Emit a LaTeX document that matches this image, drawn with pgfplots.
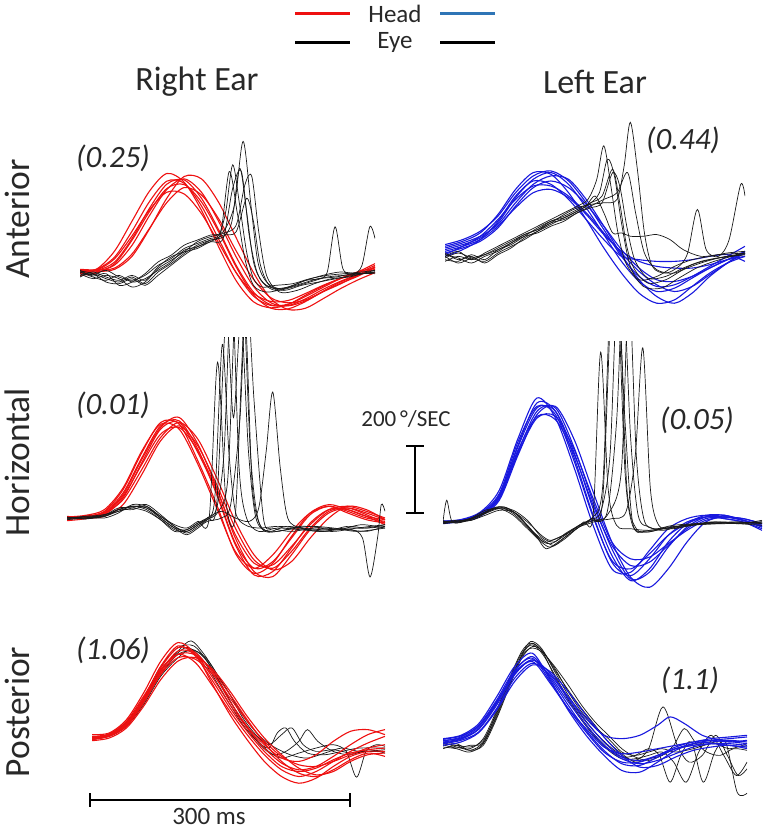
\documentclass[border=0pt]{standalone}
\usepackage{pgfplots}
\pgfplotsset{compat=1.18}
\usepackage{fontspec}
\setmainfont{Carlito}
\definecolor{hred}{RGB}{238,16,16}
\definecolor{hblue}{RGB}{24,24,222}
\definecolor{lblue}{RGB}{46,117,182}
\definecolor{eyek}{RGB}{25,25,25}
\definecolor{txt}{RGB}{40,40,40}
\pgfplotsset{
  panel/.style={scale only axis, hide axis, xmin=0, xmax=340, ymin=-250, ymax=600, height=284.75bp, anchor=origin},
  hpanel/.style={panel, ymax=540, height=264.65bp},
}
\tikzset{
  hr/.style={hred, line width=1.1bp, smooth},
  hb/.style={hblue, line width=1.1bp, smooth},
  ek/.style={eyek, line width=0.7bp, smooth},
}
\begin{document}
\begin{tikzpicture}
\path[use as bounding box] (0,0) rectangle (768bp,829bp);

% ---------------- Right ear, anterior ----------------
\begin{axis}[panel, at={(80bp,557bp)}, width=295bp]
\addplot[hr] coordinates {(0,0)(20,5)(40,30)(60,100)(80,190)(100,262)(120,275)(140,220)(160,125)(180,20)(200,-60)(220,-98)(240,-100)(260,-80)(280,-52)(300,-28)(320,-8)(340,8)};
\addplot[hr] coordinates {(0,-5)(20,10)(40,63)(60,152)(80,241)(100,294)(120,268)(140,184)(160,74)(180,-26)(200,-89)(220,-107)(240,-97)(260,-69)(280,-42)(300,-19)(320,0)(340,12)};
\addplot[hr] coordinates {(0,8)(20,6)(40,12)(60,54)(80,130)(100,207)(120,252)(140,230)(160,158)(180,63)(200,-22)(220,-77)(240,-92)(260,-83)(280,-59)(300,-36)(320,-10)(340,15)};
\addplot[hr] coordinates {(0,-10)(20,-2)(40,25)(60,95)(80,180)(100,249)(120,261)(140,209)(160,119)(180,15)(200,-68)(220,-108)(240,-110)(260,-88)(280,-58)(300,-30)(320,-10)(340,15)};
\addplot[hr] coordinates {(0,2)(20,4)(40,21)(60,80)(80,168)(100,246)(120,278)(140,238)(160,150)(180,45)(200,-43)(220,-92)(240,-101)(260,-86)(280,-59)(300,-34)(320,-13)(340,14)};
\addplot[hr] coordinates {(0,5)(20,7)(40,40)(60,108)(80,185)(100,238)(120,233)(140,174)(160,86)(180,-2)(200,-64)(220,-88)(240,-85)(260,-64)(280,-40)(300,-20)(320,-4)(340,20)};
\addplot[hr] coordinates {(0,-3)(20,1)(40,8)(60,47)(80,128)(100,220)(120,285)(140,278)(160,207)(180,102)(200,-2)(220,-80)(240,-112)(260,-108)(280,-80)(300,-50)(320,-24)(340,-2)};
\addplot[hr] coordinates {(0,0)(20,9)(40,45)(60,122)(80,210)(100,271)(120,265)(140,197)(160,97)(180,-2)(200,-72)(220,-100)(240,-96)(260,-73)(280,-46)(300,-20)(320,0)(340,25)};
\addplot[ek] coordinates {(0,0)(15,-8)(30,5)(45,-15)(60,-25)(75,-10)(90,20)(105,40)(120,70)(135,85)(150,100)(160,110)(168,180)(176,320)(184,200)(192,60)(200,-20)(210,-45)(225,-40)(245,-35)(265,-20)(285,-10)(305,-5)(325,0)(340,5)};
\addplot[ek] coordinates {(0,-10)(15,-5)(30,-20)(45,-30)(60,-15)(75,-35)(90,0)(105,25)(120,55)(135,80)(150,95)(165,105)(175,150)(184,310)(192,180)(200,30)(210,-30)(225,-55)(245,-45)(265,-30)(285,-15)(305,-10)(325,-5)(340,0)};
\addplot[ek] coordinates {(0,5)(15,-12)(30,-5)(45,-40)(60,-30)(75,-5)(90,30)(105,50)(120,80)(135,95)(150,110)(165,120)(178,200)(188,390)(197,200)(205,30)(215,-30)(230,-50)(245,-40)(260,-25)(275,-20)(285,0)(294,135)(303,10)(315,-5)(325,20)(334,135)(340,100)};
\addplot[ek] coordinates {(0,-5)(15,-20)(30,-10)(45,-20)(60,-45)(75,-30)(90,10)(105,35)(120,60)(135,90)(150,105)(165,115)(180,140)(190,260)(198,285)(206,120)(215,-10)(230,-60)(250,-55)(270,-35)(290,-20)(310,-15)(325,-5)(340,5)};
\addplot[ek] coordinates {(0,0)(15,-15)(30,-25)(45,-10)(60,-30)(75,-20)(90,5)(105,30)(120,65)(135,75)(150,95)(162,115)(172,300)(181,180)(190,40)(200,-40)(215,-60)(235,-50)(255,-35)(275,-20)(295,-15)(315,-5)(340,-5)};
\addplot[ek] coordinates {(0,-15)(15,0)(30,-15)(45,-25)(60,-10)(75,-25)(90,15)(105,45)(120,60)(135,70)(150,90)(165,100)(176,250)(186,300)(195,110)(204,0)(215,-40)(235,-55)(255,-40)(275,-30)(295,-20)(315,-10)(340,0)};
\addplot[ek] coordinates {(0,3)(15,-5)(30,-30)(45,-35)(60,-20)(75,-40)(90,-10)(105,20)(120,50)(135,75)(150,90)(165,110)(180,120)(192,220)(200,150)(208,20)(220,-45)(240,-45)(260,-25)(280,-10)(300,0)(320,-5)(340,0)};
\end{axis}

% ---------------- Left ear, anterior ----------------
\begin{axis}[panel, at={(445bp,576bp)}, width=300bp]
\addplot[hb] coordinates {(0,10)(20,25)(40,45)(60,90)(80,165)(100,220)(120,240)(140,205)(160,135)(180,55)(200,-25)(220,-85)(240,-115)(260,-105)(280,-75)(300,-45)(320,-20)(340,0)};
\addplot[hb] coordinates {(0,20)(20,35)(40,60)(60,115)(80,190)(100,240)(120,235)(140,180)(160,100)(180,15)(200,-60)(220,-120)(240,-150)(260,-140)(280,-100)(300,-60)(320,-30)(340,-10)};
\addplot[hb] coordinates {(0,0)(20,15)(40,35)(60,75)(80,140)(100,195)(120,215)(140,195)(160,145)(180,80)(200,10)(220,-45)(240,-80)(260,-85)(280,-70)(300,-45)(320,-20)(340,5)};
\addplot[hb] coordinates {(0,-10)(20,10)(40,40)(60,95)(80,170)(100,215)(120,205)(140,160)(160,100)(180,40)(200,-10)(220,-20)(240,-25)(260,-25)(280,-20)(300,-10)(320,-5)(340,-25)};
\addplot[hb] coordinates {(0,15)(20,30)(40,50)(60,85)(80,150)(100,205)(120,230)(140,220)(160,160)(180,80)(200,-5)(220,-80)(240,-130)(260,-150)(280,-120)(300,-70)(320,-30)(340,5)};
\addplot[hb] coordinates {(0,5)(20,20)(40,40)(60,80)(80,135)(100,180)(120,190)(140,165)(160,115)(180,55)(200,5)(220,-25)(240,-40)(260,-45)(280,-45)(300,-35)(320,-20)(340,-10)};
\addplot[hb] coordinates {(0,25)(20,40)(40,65)(60,110)(80,180)(100,230)(120,245)(140,215)(160,150)(180,70)(200,-10)(220,-70)(240,-100)(260,-95)(280,-70)(300,-40)(320,-10)(340,20)};
\addplot[hb] coordinates {(0,-5)(20,20)(40,50)(60,100)(80,160)(100,200)(120,200)(140,170)(160,120)(180,60)(200,0)(220,-55)(240,-95)(260,-115)(280,-100)(300,-65)(320,-30)(340,0)};
\addplot[ek] coordinates {(0,-10)(15,5)(30,-20)(45,0)(60,20)(75,40)(90,60)(105,80)(120,100)(135,120)(150,140)(162,160)(172,220)(180,320)(188,200)(196,60)(205,-30)(220,-80)(240,-70)(260,-40)(280,-20)(300,-10)(320,0)(340,5)};
\addplot[ek] coordinates {(0,-20)(15,-25)(30,-5)(45,-20)(60,10)(75,25)(90,50)(105,75)(120,95)(135,110)(150,130)(165,150)(178,170)(190,250)(198,150)(206,20)(215,-50)(230,-90)(250,-80)(270,-50)(290,-30)(310,-15)(340,0)};
\addplot[ek] coordinates {(0,-5)(15,-15)(30,-30)(45,-10)(60,5)(75,30)(90,55)(105,70)(120,90)(135,115)(150,135)(165,145)(180,150)(195,160)(203,260)(210,390)(218,250)(226,60)(235,-40)(250,-60)(265,-40)(275,0)(286,130)(296,10)(310,-10)(322,40)(335,204)(340,170)};
\addplot[ek] coordinates {(0,-15)(15,0)(30,-15)(45,-25)(60,0)(75,20)(90,40)(105,65)(120,90)(135,100)(150,120)(165,140)(180,160)(195,180)(207,240)(216,120)(226,0)(240,-50)(260,-60)(280,-35)(300,-20)(320,-10)(340,-5)};
\addplot[ek] coordinates {(0,-25)(15,-10)(30,-20)(45,-5)(60,15)(75,35)(90,55)(105,70)(120,95)(135,105)(150,125)(160,140)(170,170)(180,120)(190,60)(200,60)(210,50)(225,50)(240,55)(255,40)(270,10)(290,-10)(310,-5)(340,0)};
\addplot[ek] coordinates {(0,0)(15,-20)(30,-10)(45,-30)(60,-5)(75,15)(90,45)(105,65)(120,85)(135,105)(150,125)(163,145)(175,180)(184,280)(192,230)(200,90)(210,-40)(225,-100)(245,-105)(265,-75)(285,-45)(305,-25)(325,-10)(340,0)};
\addplot[ek] coordinates {(0,-10)(15,-30)(30,-15)(45,-5)(60,10)(75,30)(90,50)(105,60)(120,80)(135,95)(150,120)(165,135)(178,150)(190,240)(198,200)(206,80)(215,-20)(230,-75)(250,-70)(270,-45)(290,-25)(310,-15)(340,-5)};
\end{axis}

% ---------------- Right ear, horizontal ----------------
\begin{axis}[hpanel, at={(67bp,311bp)}, width=318bp]
\addplot[hr] coordinates {(0,0)(20,2)(40,10)(60,60)(80,165)(100,265)(120,285)(140,195)(160,75)(180,-75)(200,-150)(220,-130)(240,-60)(260,10)(280,35)(300,20)(320,0)(340,-10)};
\addplot[hr] coordinates {(0,-5)(20,5)(40,20)(60,85)(80,195)(100,285)(120,280)(140,170)(160,40)(180,-105)(200,-165)(220,-135)(240,-55)(260,15)(280,40)(300,25)(320,5)(340,-5)};
\addplot[hr] coordinates {(0,5)(20,0)(40,5)(60,40)(80,130)(100,230)(120,275)(140,215)(160,100)(180,-30)(200,-125)(220,-150)(240,-100)(260,-30)(280,20)(300,30)(320,10)(340,-15)};
\addplot[hr] coordinates {(0,0)(20,5)(40,15)(60,70)(80,175)(100,270)(120,300)(140,220)(160,90)(180,-60)(200,-160)(220,-175)(240,-110)(260,-35)(280,15)(300,30)(320,15)(340,-5)};
\addplot[hr] coordinates {(0,-8)(20,-2)(40,12)(60,65)(80,160)(100,250)(120,270)(140,200)(160,85)(180,-50)(200,-135)(220,-140)(240,-85)(260,-20)(280,25)(300,35)(320,20)(340,0)};
\addplot[hr] coordinates {(0,3)(20,8)(40,25)(60,90)(80,200)(100,280)(120,265)(140,160)(160,30)(180,-100)(200,-150)(220,-110)(240,-40)(260,15)(280,35)(300,15)(320,-5)(340,-15)};
\addplot[hr] coordinates {(0,-3)(20,3)(40,15)(60,55)(80,145)(100,240)(120,285)(140,235)(160,120)(180,-10)(200,-110)(220,-155)(240,-130)(260,-60)(280,0)(300,35)(320,25)(340,-5)};
\addplot[hr] coordinates {(0,0)(20,4)(40,18)(60,75)(80,180)(100,275)(120,290)(140,205)(160,70)(180,-80)(200,-170)(220,-160)(240,-90)(260,-15)(280,25)(300,25)(320,5)(340,-20)};
\addplot[ek] coordinates {(0,0)(20,5)(40,10)(55,25)(70,35)(85,30)(100,0)(115,-30)(128,-35)(140,-15)(150,0)(158,60)(166,518)(173,200)(180,20)(190,-20)(205,-30)(225,-25)(250,-30)(275,-35)(300,-30)(320,-30)(340,-20)};
\addplot[ek] coordinates {(0,-5)(20,0)(40,5)(55,20)(70,30)(85,40)(100,10)(115,-25)(128,-45)(140,-25)(150,-5)(160,30)(168,200)(176,700)(184,150)(192,0)(205,-40)(225,-30)(250,-35)(275,-40)(300,-25)(320,-30)(340,-25)};
\addplot[ek] coordinates {(0,3)(20,-3)(40,8)(55,30)(70,30)(85,20)(100,-5)(115,-35)(128,-40)(140,-20)(150,-5)(162,20)(172,120)(180,650)(188,700)(196,200)(204,0)(215,-40)(235,-35)(260,-25)(285,-30)(310,-40)(340,-30)};
\addplot[ek] coordinates {(0,0)(20,2)(40,0)(55,15)(70,40)(85,35)(100,5)(115,-20)(128,-30)(140,-10)(152,0)(161,465)(170,50)(180,10)(190,600)(198,100)(208,-30)(225,-40)(250,-25)(275,-30)(300,-35)(320,-40)(340,-25)};
\addplot[ek] coordinates {(0,-3)(20,5)(40,5)(55,25)(70,25)(85,35)(100,0)(115,-30)(128,-50)(140,-30)(150,-10)(165,0)(175,40)(185,300)(192,700)(200,350)(210,0)(220,-30)(240,-40)(265,-30)(290,-35)(315,-20)(340,-30)};
\addplot[ek] coordinates {(0,0)(20,0)(40,10)(55,20)(70,35)(85,25)(100,-5)(115,-40)(128,-35)(140,-15)(150,0)(165,20)(180,0)(195,-10)(205,30)(213,200)(220,376)(228,150)(236,0)(250,-30)(270,-40)(290,-35)(305,-35)(316,-60)(324,-176)(332,-60)(336,40)(340,20)};
\addplot[ek] coordinates {(0,2)(20,-2)(40,5)(55,25)(70,35)(85,30)(100,5)(115,-25)(128,-40)(140,-20)(150,0)(160,40)(170,600)(178,300)(186,600)(194,200)(202,0)(215,-40)(235,-25)(260,-35)(285,-40)(310,-30)(340,-20)};
\end{axis}

% ---------------- Left ear, horizontal ----------------
\begin{axis}[hpanel, at={(443bp,307bp)}, width=319bp]
\addplot[hb] coordinates {(0,0)(20,5)(40,25)(60,80)(80,230)(100,355)(120,330)(140,190)(160,20)(180,-120)(200,-160)(220,-110)(240,-40)(260,0)(280,15)(300,15)(320,5)(340,-10)};
\addplot[hb] coordinates {(0,-3)(20,3)(40,20)(60,70)(80,210)(100,330)(120,340)(140,220)(160,60)(180,-80)(200,-170)(220,-150)(240,-75)(260,-15)(280,15)(300,20)(320,5)(340,-15)};
\addplot[hb] coordinates {(0,2)(20,8)(40,30)(60,95)(80,250)(100,370)(120,310)(140,160)(160,-10)(180,-140)(200,-150)(220,-85)(240,-20)(260,10)(280,20)(300,10)(320,0)(340,-20)};
\addplot[hb] coordinates {(0,0)(20,4)(40,22)(60,75)(80,215)(100,315)(120,305)(140,200)(160,50)(180,-70)(200,-130)(220,-120)(240,-70)(260,-20)(280,10)(300,15)(320,10)(340,-5)};
\addplot[hb] coordinates {(0,-5)(20,2)(40,18)(60,65)(80,200)(100,320)(120,345)(140,245)(160,90)(180,-60)(200,-165)(220,-195)(240,-140)(260,-60)(280,0)(300,15)(320,5)(340,-15)};
\addplot[hb] coordinates {(0,3)(20,6)(40,28)(60,85)(80,240)(100,345)(120,320)(140,180)(160,15)(180,-115)(200,-140)(220,-95)(240,-40)(260,-5)(280,15)(300,10)(320,0)(340,-25)};
\addplot[hb] coordinates {(0,0)(20,5)(40,24)(60,78)(80,225)(100,340)(120,330)(140,205)(160,40)(180,-100)(200,-175)(220,-140)(240,-60)(260,-5)(280,20)(300,20)(320,5)(340,-10)};
\addplot[hb] coordinates {(0,-2)(20,3)(40,20)(60,72)(80,205)(100,310)(120,315)(140,215)(160,70)(180,-60)(200,-110)(220,-105)(240,-65)(260,-25)(280,5)(300,15)(320,10)(340,-5)};
\addplot[ek] coordinates {(0,0)(4,65)(10,0)(25,5)(40,20)(55,40)(65,45)(80,20)(95,-30)(108,-60)(120,-50)(135,-30)(150,0)(160,20)(168,507)(176,100)(185,-10)(200,-20)(220,-25)(245,-15)(270,-5)(300,0)(320,-5)(340,0)};
\addplot[ek] coordinates {(0,-5)(15,0)(30,10)(45,30)(58,45)(70,40)(85,5)(100,-45)(110,-80)(125,-55)(140,-25)(155,5)(168,30)(178,200)(186,700)(194,300)(202,0)(215,-30)(235,-20)(260,-10)(290,-5)(315,0)(340,-5)};
\addplot[ek] coordinates {(0,0)(15,5)(30,5)(45,25)(60,40)(75,30)(90,-10)(105,-55)(115,-65)(130,-40)(145,-10)(158,10)(170,60)(180,700)(188,650)(196,100)(206,-20)(220,-25)(240,-15)(265,-10)(290,0)(315,-5)(340,-10)};
\addplot[ek] coordinates {(0,3)(15,-3)(30,8)(45,30)(60,45)(75,25)(90,-15)(105,-50)(118,-70)(130,-45)(145,-15)(160,5)(175,20)(190,150)(198,700)(206,200)(214,10)(225,-20)(245,-10)(270,-5)(300,-5)(340,0)};
\addplot[ek] coordinates {(0,-2)(15,2)(30,12)(45,35)(60,40)(75,20)(90,-20)(105,-60)(115,-75)(130,-50)(145,-15)(160,0)(175,30)(185,300)(192,700)(200,250)(208,20)(220,-15)(235,-25)(255,-10)(280,-5)(310,0)(340,-5)};
\addplot[ek] coordinates {(0,0)(15,0)(30,5)(45,20)(60,35)(75,30)(90,0)(105,-40)(115,-55)(128,-40)(140,-20)(152,0)(165,5)(180,10)(195,30)(205,200)(213,520)(221,100)(230,-10)(245,-20)(265,-10)(290,-5)(340,0)};
\addplot[ek] coordinates {(0,2)(15,3)(30,10)(45,28)(60,42)(75,35)(90,5)(105,-45)(118,-60)(130,-35)(145,-10)(158,10)(170,100)(178,650)(186,700)(194,150)(202,-10)(215,-30)(235,-20)(255,-15)(285,0)(315,-5)(340,5)};
\end{axis}

% ---------------- Right ear, posterior ----------------
\begin{axis}[panel, at={(92bp,91bp)}, width=293bp]
\addplot[ek] coordinates {(0,0)(20,8)(40,40)(60,110)(80,200)(100,260)(115,290)(130,250)(145,190)(160,130)(175,60)(190,10)(205,-20)(220,10)(232,30)(245,-20)(260,-40)(280,-35)(300,-45)(320,-40)(340,-35)};
\addplot[ek] coordinates {(0,-5)(20,10)(40,45)(60,120)(80,215)(100,270)(118,275)(135,225)(150,160)(165,90)(180,30)(195,-20)(210,-50)(225,-40)(240,-10)(250,25)(262,-10)(280,-40)(300,-50)(320,-35)(340,-45)};
\addplot[ek] coordinates {(0,5)(20,5)(40,35)(60,100)(80,185)(100,240)(115,265)(130,240)(145,180)(160,110)(175,50)(190,0)(205,-40)(220,-60)(240,-45)(260,-30)(280,-20)(295,-40)(307,-117)(318,-40)(330,-20)(340,-25)};
\addplot[ek] coordinates {(0,2)(20,12)(40,48)(60,115)(80,205)(100,255)(112,270)(128,235)(145,165)(160,100)(175,40)(190,-5)(205,-30)(215,15)(225,30)(235,-10)(250,-45)(270,-50)(290,-40)(310,-30)(340,-30)};
\addplot[ek] coordinates {(0,-3)(20,6)(40,38)(60,105)(80,190)(100,250)(120,260)(135,230)(150,170)(165,110)(180,50)(195,5)(210,-25)(230,-50)(250,-60)(270,-45)(290,-30)(310,-40)(340,-40)};
\addplot[hr] coordinates {(0,0)(20,10)(40,45)(60,120)(80,215)(100,275)(120,245)(140,170)(160,90)(180,20)(200,-40)(220,-85)(240,-100)(260,-90)(280,-65)(300,-45)(320,-35)(340,-30)};
\addplot[hr] coordinates {(0,10)(20,15)(40,55)(60,135)(80,230)(100,285)(120,250)(140,160)(160,70)(180,-5)(200,-70)(220,-115)(240,-135)(260,-120)(280,-85)(300,-55)(320,-40)(340,-40)};
\addplot[hr] coordinates {(0,-5)(20,5)(40,35)(60,105)(80,190)(100,240)(120,235)(140,190)(160,120)(180,50)(200,-10)(220,-55)(240,-80)(260,-85)(280,-70)(300,-50)(320,-30)(340,-20)};
\addplot[hr] coordinates {(0,5)(20,12)(40,50)(60,125)(80,205)(100,250)(120,225)(140,155)(160,80)(180,10)(200,-50)(220,-95)(240,-115)(260,-100)(280,-70)(300,-40)(320,-15)(340,5)};
\addplot[hr] coordinates {(0,-8)(20,0)(40,30)(60,95)(80,175)(100,230)(120,240)(140,205)(160,140)(180,65)(200,0)(220,-50)(240,-90)(260,-110)(280,-100)(300,-70)(320,-50)(340,-45)};
\addplot[hr] coordinates {(0,3)(20,10)(40,40)(60,115)(80,200)(100,260)(120,250)(140,180)(160,100)(180,30)(200,-30)(220,-75)(240,-95)(260,-85)(280,-55)(300,-20)(320,10)(340,25)};
\addplot[hr] coordinates {(0,0)(20,8)(40,42)(60,118)(80,210)(100,270)(120,255)(140,195)(160,110)(180,35)(200,-20)(220,-60)(240,-70)(260,-50)(280,-10)(300,20)(320,25)(340,10)};
\addplot[hr] coordinates {(0,-3)(20,6)(40,38)(60,110)(80,195)(100,250)(120,248)(140,200)(160,130)(180,55)(200,-15)(220,-70)(240,-105)(260,-115)(280,-95)(300,-65)(320,-45)(340,-55)};
\end{axis}

% ---------------- Left ear, posterior ----------------
\begin{axis}[panel, at={(443bp,87bp)}, width=304bp]
\addplot[ek] coordinates {(0,-15)(15,-20)(30,-30)(45,-5)(60,80)(75,180)(88,260)(98,300)(110,280)(125,210)(140,140)(155,80)(170,30)(185,-10)(200,-40)(215,-55)(230,-20)(246,105)(262,-10)(275,-60)(290,-40)(305,20)(318,-40)(330,-100)(340,-80)};
\addplot[ek] coordinates {(0,-5)(15,-10)(30,-25)(45,0)(60,90)(75,190)(88,265)(100,290)(112,260)(125,200)(140,130)(155,70)(170,20)(185,-20)(200,-45)(215,-40)(230,-20)(242,-40)(254,-120)(266,-40)(278,0)(291,-120)(304,-30)(316,0)(329,-150)(340,-153)};
\addplot[ek] coordinates {(0,0)(15,-15)(30,-20)(45,10)(60,95)(75,195)(88,270)(98,295)(110,275)(125,220)(140,150)(155,90)(170,45)(185,10)(200,-30)(215,-40)(230,-30)(245,-20)(260,-30)(280,-20)(300,-5)(320,-10)(340,-15)};
\addplot[ek] coordinates {(0,-10)(15,-5)(30,-25)(45,-10)(60,70)(75,170)(88,250)(100,285)(112,270)(125,215)(140,155)(155,100)(170,50)(185,0)(200,-35)(215,-60)(230,-50)(245,-40)(258,-10)(270,40)(282,0)(295,-30)(310,-40)(325,-20)(340,-25)};
\addplot[ek] coordinates {(0,-20)(15,-10)(30,-15)(45,5)(60,85)(75,185)(88,255)(98,280)(110,270)(125,225)(140,170)(155,110)(170,60)(185,20)(200,-20)(215,-45)(230,-55)(245,-40)(260,-20)(280,-10)(300,0)(320,-20)(340,-5)};
\addplot[ek] coordinates {(0,-8)(15,-18)(30,-10)(45,-3)(60,75)(75,175)(88,258)(100,295)(112,265)(125,195)(140,125)(155,65)(170,15)(185,-25)(200,-50)(215,-50)(230,-40)(245,-30)(258,-60)(272,-120)(286,-30)(300,20)(314,-40)(328,-100)(340,-60)};
\addplot[hb] coordinates {(0,0)(20,10)(40,40)(60,115)(80,210)(100,255)(120,190)(140,110)(160,35)(180,-25)(200,-65)(220,-70)(240,-45)(260,-20)(280,-5)(300,0)(320,5)(340,0)};
\addplot[hb] coordinates {(0,10)(20,20)(40,55)(60,135)(80,225)(100,265)(120,185)(140,95)(160,20)(180,-40)(200,-85)(220,-90)(240,-60)(260,-25)(280,-5)(300,5)(320,10)(340,15)};
\addplot[hb] coordinates {(0,-5)(20,5)(40,30)(60,100)(80,190)(100,235)(120,200)(140,130)(160,60)(180,0)(200,-45)(220,-55)(240,-40)(260,-20)(280,-10)(300,-5)(320,-10)(340,-15)};
\addplot[hb] coordinates {(0,5)(20,12)(40,45)(60,120)(80,205)(100,245)(120,205)(140,135)(160,70)(180,20)(200,10)(220,20)(240,50)(254,75)(270,55)(290,20)(310,5)(325,0)(340,-5)};
\addplot[hb] coordinates {(0,-10)(20,0)(40,28)(60,95)(80,180)(100,230)(120,210)(140,150)(160,80)(180,15)(200,-40)(220,-75)(240,-70)(260,-45)(280,-25)(300,-15)(320,-10)(340,-20)};
\addplot[hb] coordinates {(0,3)(20,15)(40,50)(60,125)(80,215)(100,250)(120,180)(140,100)(160,30)(180,-30)(200,-60)(220,-60)(240,-40)(260,-15)(280,0)(300,5)(320,0)(340,5)};
\addplot[hb] coordinates {(0,-3)(20,8)(40,38)(60,110)(80,200)(100,245)(120,195)(140,120)(160,50)(180,-10)(200,-50)(220,-65)(240,-55)(260,-35)(280,-15)(300,-5)(320,-5)(340,-10)};
\addplot[hb] coordinates {(0,8)(20,18)(40,48)(60,118)(80,205)(100,240)(120,175)(140,100)(160,40)(180,-15)(200,-35)(220,-30)(240,-20)(260,-10)(280,0)(300,10)(320,15)(340,20)};
\end{axis}

% ---------------- Annotations ----------------
\draw[hred, line width=3bp] (295bp,815bp) -- (350bp,815bp);
\draw[lblue, line width=3bp] (440bp,815bp) -- (495bp,815bp);
\draw[black, line width=3bp] (295bp,786bp) -- (350bp,786bp);
\draw[black, line width=3bp] (440bp,786bp) -- (495bp,786bp);
\node[font=\fontsize{25bp}{28bp}\selectfont, text=txt] at (395bp,815bp) {Head};
\node[font=\fontsize{25bp}{28bp}\selectfont, text=txt] at (395bp,786bp) {Eye};
\node[font=\fontsize{34bp}{38bp}\selectfont, text=txt] at (197bp,747bp) {Right Ear};
\node[font=\fontsize{34bp}{38bp}\selectfont, text=txt] at (595bp,747bp) {Left Ear};
\node[font=\fontsize{35.5bp}{38bp}\selectfont, rotate=90, text=txt] at (17bp,610bp) {Anterior};
\node[font=\fontsize{35.5bp}{38bp}\selectfont, rotate=90, text=txt] at (17bp,367bp) {Horizontal};
\node[font=\fontsize{35.5bp}{38bp}\selectfont, rotate=90, text=txt] at (17bp,117bp) {Posterior};
\node[font=\fontsize{31bp}{34bp}\selectfont\itshape, text=txt] at (113bp,671bp) {(0.25)};
\node[font=\fontsize{31bp}{34bp}\selectfont\itshape, text=txt] at (683bp,689bp) {(0.44)};
\node[font=\fontsize{31bp}{34bp}\selectfont\itshape, text=txt] at (113bp,424bp) {(0.01)};
\node[font=\fontsize{31bp}{34bp}\selectfont\itshape, text=txt] at (697bp,409bp) {(0.05)};
\node[font=\fontsize{31bp}{34bp}\selectfont\itshape, text=txt] at (113bp,179bp) {(1.06)};
\node[font=\fontsize{31bp}{34bp}\selectfont\itshape, text=txt] at (690bp,149bp) {(1.1)};
\node[font=\fontsize{23bp}{26bp}\selectfont, text=txt] at (406bp,410bp) {200\,°/SEC};
\draw[black, line width=2.5bp] (415bp,383bp) -- (415bp,316bp);
\draw[black, line width=2.2bp] (406bp,383bp) -- (424bp,383bp);
\draw[black, line width=2.2bp] (406bp,316bp) -- (424bp,316bp);
\draw[black, line width=2.2bp] (90bp,29bp) -- (350bp,29bp);
\draw[black, line width=2bp] (90bp,22bp) -- (90bp,36bp);
\draw[black, line width=2bp] (350bp,22bp) -- (350bp,36bp);
\node[font=\fontsize{25bp}{28bp}\selectfont, text=txt, anchor=base, inner sep=0pt] at (209bp,5bp) {300 ms};
\end{tikzpicture}
\end{document}
